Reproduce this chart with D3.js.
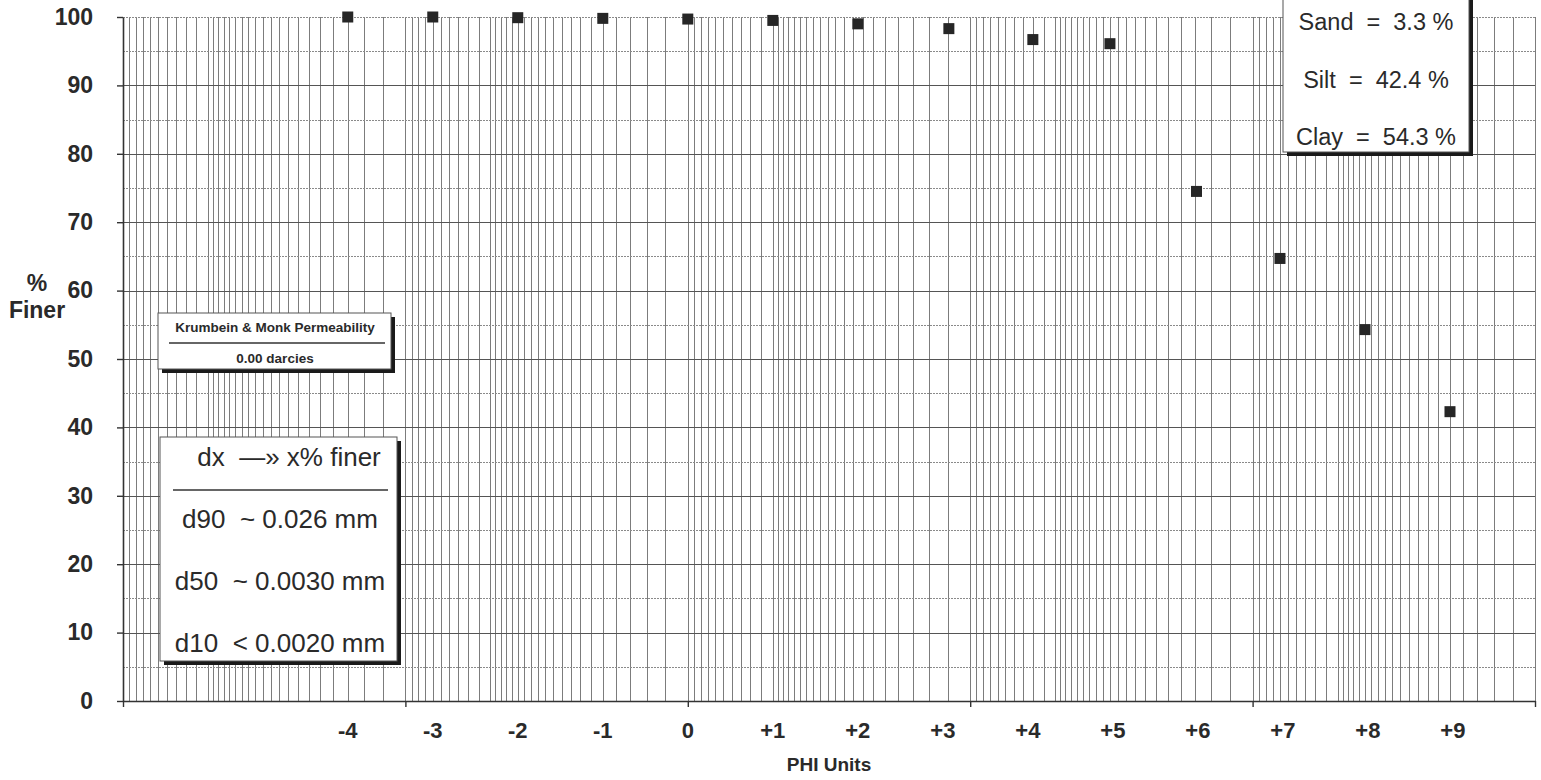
<!DOCTYPE html>
<html>
<head>
<meta charset="utf-8">
<script src="https://cdn.jsdelivr.net/npm/d3@7/dist/d3.min.js"></script>
<style>
  html, body { margin: 0; padding: 0; background: #fff; }
  svg { display: block; font-family: "Liberation Sans", Arial, Helvetica, sans-serif; }
</style>
</head>
<body>
<svg id="chart" width="1541" height="780"></svg>
<script>
// ---- data ----
const diametersMm = [16, 8, 4, 2, 1, 0.5, 0.25, 0.119, 0.060, 0.032, 0.0158, 0.0080, 0.0040, 0.0020];
const percentFiner = [100, 100, 99.9, 99.8, 99.7, 99.5, 99.0, 98.3, 96.7, 96.1, 74.5, 64.7, 54.3, 42.3];
const phiTicks = [-4, -3, -2, -1, 0, 1, 2, 3, 4, 5, 6, 7, 8, 9];
const phiLabels = ["-4", "-3", "-2", "-1", "0", "+1", "+2", "+3", "+4", "+5", "+6", "+7", "+8", "+9"];
const yTicks = [0, 10, 20, 30, 40, 50, 60, 70, 80, 90, 100];
const decadeTicks = [100, 10, 1, 0.1, 0.01, 0.001];
const sizeSummary = ["Sand  =  3.3 %", "Silt  =  42.4 %", "Clay  =  54.3 %"];
const permeabilityLines = ["Krumbein & Monk Permeability", "0.00 darcies"];
const percentileHeader = "dx  \u2014\u00bb x% finer";
const percentileLines = ["d90  ~ 0.026 mm", "d50  ~ 0.0030 mm", "d10  < 0.0020 mm"];

// ---- scales ----
const svg = d3.select("#chart");
const x = d3.scaleLog().domain([100, 0.001]).range([123, 1535]);
const y = d3.scaleLinear().domain([0, 100]).range([701, 17]);
const textCol = "#2a2a2a";

// graph-paper mantissas within a decade
const mantissas = d3.range(1, 5, 0.2).concat(d3.range(5, 10, 0.5));
const gridValues = [];
[0.001, 0.01, 0.1, 1, 10].forEach(dec => mantissas.forEach(m => gridValues.push(+(m * dec).toPrecision(6))));
gridValues.push(100);

const grid = svg.append("g").attr("shape-rendering", "crispEdges");
grid.selectAll("line.v").data(gridValues).join("line")
  .attr("x1", d => Math.round(x(d)) + 0.5).attr("x2", d => Math.round(x(d)) + 0.5)
  .attr("y1", y(100)).attr("y2", y(0))
  .attr("stroke", "#7c7c7c").attr("stroke-width", 1);

const hVals = d3.range(5, 101, 5);
grid.selectAll("line.h").data(hVals).join("line")
  .attr("x1", x(100)).attr("x2", x(0.001))
  .attr("y1", d => Math.round(y(d)) + 0.5).attr("y2", d => Math.round(y(d)) + 0.5)
  .attr("stroke", d => (d % 10 === 0 && d !== 100) ? "#555" : "#8a8a8a")
  .attr("stroke-width", 1)
  .attr("stroke-dasharray", d => (d % 10 === 0 && d !== 100) ? null : "2,1");

// ---- axes ----
const xAxis = svg.append("g").attr("transform", `translate(0,${y(0)})`)
  .call(d3.axisBottom(x).tickValues(decadeTicks).tickFormat("").tickSize(6).tickSizeOuter(0));
xAxis.select(".domain").attr("stroke", "#333").attr("stroke-width", 1.6);
xAxis.selectAll(".tick line").attr("stroke", "#333").attr("stroke-width", 1.4);

const yAxis = svg.append("g").attr("transform", `translate(${x(100)},0)`)
  .call(d3.axisLeft(y).tickValues(yTicks).tickSize(6).tickSizeOuter(0).tickPadding(24));
yAxis.select(".domain").attr("stroke", "#333").attr("stroke-width", 1.6);
yAxis.selectAll(".tick line").attr("stroke", "#333").attr("stroke-width", 1.4);
yAxis.selectAll(".tick text")
  .attr("font-size", 23).attr("font-weight", "bold").attr("fill", textCol)
  .attr("font-family", "'Liberation Sans', Arial, sans-serif");

// phi labels
svg.append("g").selectAll("text").data(phiTicks).join("text")
  .attr("x", d => x(Math.pow(2, -d)))
  .attr("y", 738)
  .attr("text-anchor", "middle")
  .attr("font-size", 22).attr("font-weight", "bold").attr("fill", textCol)
  .text((d, i) => phiLabels[i]);

// axis titles
svg.append("text").attr("x", 829).attr("y", 771).attr("text-anchor", "middle")
  .attr("font-size", 19).attr("font-weight", "bold").attr("fill", textCol).text("PHI Units");
svg.append("text").attr("x", 37).attr("y", 291).attr("text-anchor", "middle")
  .attr("font-size", 23).attr("font-weight", "bold").attr("fill", textCol).text("%");
svg.append("text").attr("x", 37).attr("y", 318).attr("text-anchor", "middle")
  .attr("font-size", 23).attr("font-weight", "bold").attr("fill", textCol).text("Finer");

// ---- data points ----
const pts = diametersMm.map((d, i) => ({ d, p: percentFiner[i] }));
const ms = 11;
svg.append("g").selectAll("rect").data(pts).join("rect")
  .attr("x", d => x(d.d) - ms / 2)
  .attr("y", d => y(d.p) - ms / 2)
  .attr("width", ms).attr("height", ms)
  .attr("fill", "#262626");

// ---- boxes ----
function shadowBox(x0, y0, w, h) {
  const g = svg.append("g");
  g.append("rect").attr("x", x0 + 4).attr("y", y0 + 4).attr("width", w).attr("height", h).attr("fill", "#1a1a1a");
  g.append("rect").attr("x", x0).attr("y", y0).attr("width", w).attr("height", h)
    .attr("fill", "#fff").attr("stroke", "#555").attr("stroke-width", 1);
  return g;
}

// Sand / Silt / Clay
const b1 = shadowBox(1283, -20, 186, 172);
b1.selectAll("text").data(sizeSummary).join("text")
  .attr("x", 1376).attr("y", (d, i) => 30 + i * 57.5)
  .attr("text-anchor", "middle").attr("font-size", 23.5).attr("fill", textCol)
  .style("white-space", "pre").text(d => d);

// Krumbein & Monk
const b2 = shadowBox(158, 313, 233, 56);
b2.append("text").attr("x", 275).attr("y", 332).attr("text-anchor", "middle")
  .attr("font-size", 13.5).attr("font-weight", "bold").attr("fill", textCol).text(permeabilityLines[0]);
b2.append("line").attr("x1", 169).attr("x2", 385).attr("y1", 343).attr("y2", 343)
  .attr("stroke", "#333").attr("stroke-width", 1.5);
b2.append("text").attr("x", 275).attr("y", 363).attr("text-anchor", "middle")
  .attr("font-size", 13.5).attr("font-weight", "bold").attr("fill", textCol).text(permeabilityLines[1]);

// dx box
const b3 = shadowBox(160, 437, 237, 224);
b3.append("text").attr("x", 289).attr("y", 466).attr("text-anchor", "middle")
  .attr("font-size", 26).attr("fill", textCol).style("white-space", "pre").text(percentileHeader);
b3.append("line").attr("x1", 173).attr("x2", 388).attr("y1", 490).attr("y2", 490)
  .attr("stroke", "#333").attr("stroke-width", 1.6);
b3.selectAll("text.p").data(percentileLines).join("text").attr("class", "p")
  .attr("x", 280).attr("y", (d, i) => 528 + i * 62)
  .attr("text-anchor", "middle").attr("font-size", 26).attr("fill", textCol)
  .style("white-space", "pre").text(d => d);
</script>
</body>
</html>
